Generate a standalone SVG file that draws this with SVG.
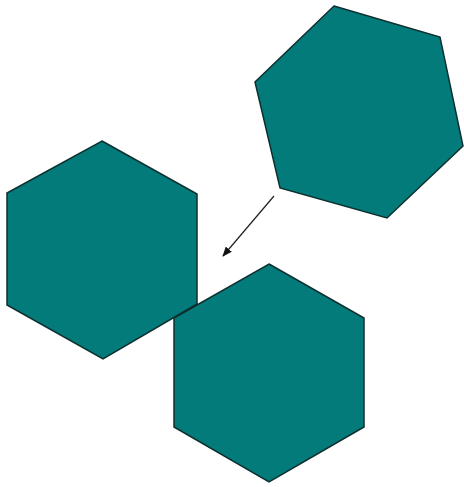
<svg xmlns="http://www.w3.org/2000/svg" width="464" height="487" viewBox="0 0 464 487">
<style>
.hex{fill:#047b7b;stroke:#0d2f2f;stroke-width:1.5;stroke-linejoin:miter}
.conn{stroke:#222;stroke-width:1.2;fill:none}
</style>
<defs>
<marker id="ah" markerWidth="10" markerHeight="8" refX="9" refY="4" orient="auto" markerUnits="userSpaceOnUse">
<path d="M0,0 L10,4 L0,8 z" fill="#111"/>
</marker>
</defs>
<rect width="464" height="487" fill="#fff"/>
<g id="hex-top-right"><polygon class="hex" points="334,6 440,37 463,146 387,218 280,188 255,82"/></g>
<g id="hex-left"><polygon class="hex" points="102,141 197,194 197,304 103,359 7,305 7,193"/></g>
<g id="hex-bottom"><polygon class="hex" points="269,264 364,318 364,427 269,482 174,427 174,318"/></g>
<g id="connectors"><line class="conn" x1="274" y1="196" x2="223" y2="256" marker-end="url(#ah)"/></g>
</svg>
